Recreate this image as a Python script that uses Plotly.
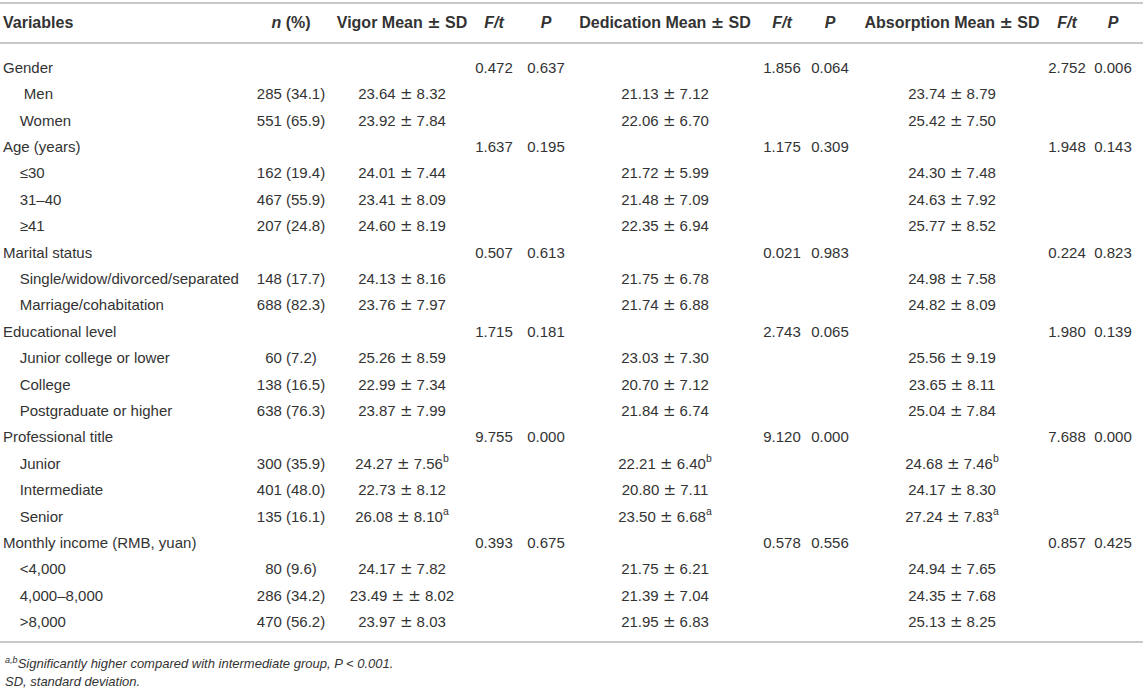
import plotly.graph_objects as go

# ---- table content ----
IND = "\u00a0" * 4

headers = ["Variables", "<i>n</i> (%)", "Vigor Mean ± SD", "<i>F/t</i>", "<i>P</i>",
           "Dedication Mean ± SD", "<i>F/t</i>", "<i>P</i>",
           "Absorption Mean ± SD", "<i>F/t</i>", "<i>P</i>"]

variables = ["Gender", "\u00a0" + IND + "Men", IND + "Women",
             "Age (years)", IND + "≤30", IND + "31–40", IND + "≥41",
             "Marital status", IND + "Single/widow/divorced/separated", IND + "Marriage/cohabitation",
             "Educational level", IND + "Junior college or lower", IND + "College", IND + "Postgraduate or higher",
             "Professional title", IND + "Junior", IND + "Intermediate", IND + "Senior",
             "Monthly income (RMB, yuan)", IND + "<4,000", IND + "4,000–8,000", IND + ">8,000"]

n_pct = ["", "285 (34.1)", "551 (65.9)",
         "", "162 (19.4)", "467 (55.9)", "207 (24.8)",
         "", "148 (17.7)", "688 (82.3)",
         "", "60 (7.2)", "138 (16.5)", "638 (76.3)",
         "", "300 (35.9)", "401 (48.0)", "135 (16.1)",
         "", "80 (9.6)", "286 (34.2)", "470 (56.2)"]

vigor = ["", "23.64 ± 8.32", "23.92 ± 7.84",
         "", "24.01 ± 7.44", "23.41 ± 8.09", "24.60 ± 8.19",
         "", "24.13 ± 8.16", "23.76 ± 7.97",
         "", "25.26 ± 8.59", "22.99 ± 7.34", "23.87 ± 7.99",
         "", "24.27 ± 7.56<sup>b</sup>", "22.73 ± 8.12", "26.08 ± 8.10<sup>a</sup>",
         "", "24.17 ± 7.82", "23.49 ± ± 8.02", "23.97 ± 8.03"]
vigor_ft = ["0.472", "", "", "1.637", "", "", "", "0.507", "", "", "1.715", "", "", "",
            "9.755", "", "", "", "0.393", "", "", ""]
vigor_p = ["0.637", "", "", "0.195", "", "", "", "0.613", "", "", "0.181", "", "", "",
           "0.000", "", "", "", "0.675", "", "", ""]

dedication = ["", "21.13 ± 7.12", "22.06 ± 6.70",
              "", "21.72 ± 5.99", "21.48 ± 7.09", "22.35 ± 6.94",
              "", "21.75 ± 6.78", "21.74 ± 6.88",
              "", "23.03 ± 7.30", "20.70 ± 7.12", "21.84 ± 6.74",
              "", "22.21 ± 6.40<sup>b</sup>", "20.80 ± 7.11", "23.50 ± 6.68<sup>a</sup>",
              "", "21.75 ± 6.21", "21.39 ± 7.04", "21.95 ± 6.83"]
ded_ft = ["1.856", "", "", "1.175", "", "", "", "0.021", "", "", "2.743", "", "", "",
          "9.120", "", "", "", "0.578", "", "", ""]
ded_p = ["0.064", "", "", "0.309", "", "", "", "0.983", "", "", "0.065", "", "", "",
         "0.000", "", "", "", "0.556", "", "", ""]

absorption = ["", "23.74 ± 8.79", "25.42 ± 7.50",
              "", "24.30 ± 7.48", "24.63 ± 7.92", "25.77 ± 8.52",
              "", "24.98 ± 7.58", "24.82 ± 8.09",
              "", "25.56 ± 9.19", "23.65 ± 8.11", "25.04 ± 7.84",
              "", "24.68 ± 7.46<sup>b</sup>", "24.17 ± 8.30", "27.24 ± 7.83<sup>a</sup>",
              "", "24.94 ± 7.65", "24.35 ± 7.68", "25.13 ± 8.25"]
abs_ft = ["2.752", "", "", "1.948", "", "", "", "0.224", "", "", "1.980", "", "", "",
          "7.688", "", "", "", "0.857", "", "", ""]
abs_p = ["0.006", "", "", "0.143", "", "", "", "0.823", "", "", "0.139", "", "", "",
         "0.000", "", "", "", "0.425", "", "", ""]

footnotes = ["<sup>a,b</sup>Significantly higher compared with intermediate group, P < 0.001.",
             "SD, standard deviation."]

columns = [variables, n_pct, vigor, vigor_ft, vigor_p, dedication, ded_ft, ded_p,
           absorption, abs_ft, abs_p]

# ---- layout (pixel based) ----
W, H = 1143, 691
COL_X = [3, 291, 402, 494, 546, 665, 782, 830, 952, 1067, 1113]
ROW0, ROW_H = 69, 26.4
TEXT = "#333333"
RULE = "#c8c8c8"
FONT = "Liberation Sans, Arial, Helvetica, sans-serif"
PM = "<span style='font-family:DejaVu Sans'>±</span>"  # the source uses a wider plus-minus glyph


def py(px):
    # pixel row -> row-unit y value
    return (px - ROW0) / ROW_H


def fmt(s):
    return s.replace("±", PM)


fig = go.Figure()

# header
fig.add_trace(go.Scatter(
    x=COL_X, y=[py(24)] * len(headers), mode="text",
    text=["<b>" + fmt(h) + "</b>" for h in headers],
    textposition=["middle right"] + ["middle center"] * (len(headers) - 1),
    textfont=dict(family=FONT, size=16, color=TEXT),
    hoverinfo="skip", showlegend=False))

# body
for j, col in enumerate(columns):
    idx = [i for i, s in enumerate(col) if s]
    fig.add_trace(go.Scatter(
        x=[COL_X[j]] * len(idx), y=idx, mode="text", text=[fmt(col[i]) for i in idx],
        textposition="middle right" if j == 0 else "middle center",
        textfont=dict(family=FONT, size=15, color=TEXT),
        hoverinfo="skip", showlegend=False))

# horizontal rules
for px in (3, 43, 642):
    fig.add_shape(type="line", xref="paper", x0=0, x1=1, yref="y", y0=py(px), y1=py(px),
                  line=dict(color=RULE, width=2))

# footnotes
for txt, px in zip(footnotes, (663, 681)):
    fig.add_annotation(x=3, y=py(px), xref="x", yref="y", text="<i>" + txt + "</i>",
                       showarrow=False, xanchor="left", yanchor="middle",
                       font=dict(family=FONT, size=13, color=TEXT))

fig.update_layout(
    width=W, height=H,
    margin=dict(l=0, r=0, t=0, b=0),
    paper_bgcolor="white", plot_bgcolor="white",
    xaxis=dict(range=[0, W], visible=False, fixedrange=True),
    yaxis=dict(range=[py(H), py(0)], visible=False, fixedrange=True),
)

fig.write_html("out.html", config={"displayModeBar": False},
               post_script="document.body.style.margin='0';document.body.style.overflow='hidden';")
